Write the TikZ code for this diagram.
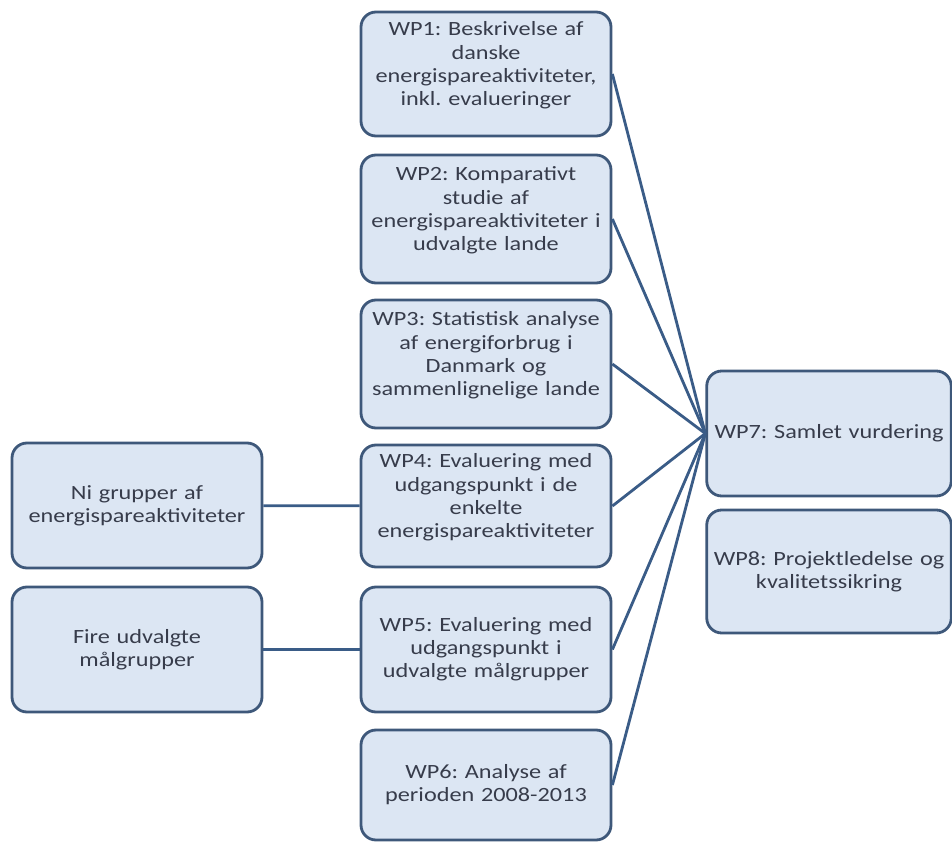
\documentclass[tikz,border=0pt]{standalone}
\usepackage{fontspec}
\setmainfont{Carlito}[FakeStretch=1.2]
\frenchspacing
\usetikzlibrary{positioning}
\definecolor{wpfill}{RGB}{220,230,243}
\definecolor{wpdraw}{RGB}{62,88,122}
\definecolor{wplink}{RGB}{58,92,135}
\definecolor{wptext}{RGB}{55,60,75}
\newcommand{\liftgap}{\par\vspace*{0.34cm}}
\begin{document}
\begin{tikzpicture}[
		wp/.style={
			rectangle,
			draw=wpdraw,
			fill=wpfill,
			line width=1.6pt,
			rounded corners=0.3cm,
			minimum width=5cm,
			text width=4.9cm,
			inner xsep=1pt,
			align=center,
			text=wptext,
			font=\fontsize{11.5}{13.2}\selectfont
		},
		lifted/.style={
			execute at end node=\liftgap
		},
		link/.style={
			draw=wplink,
			line width=1.6pt
		}
		]
		\useasboundingbox (0,0) rectangle (19.04,-16.96);
		
		\node[wp, lifted, minimum height=2.48cm] (wp1) at (9.72,-1.48) {WP1: Beskrivelse af\\danske\\energispareaktiviteter,\\inkl. evalueringer};
		\node[wp, lifted, minimum height=2.56cm] (wp2) at (9.72,-4.38) {WP2: Komparativt\\studie af\\energispareaktiviteter i\\udvalgte lande};
		\node[wp, lifted, minimum height=2.56cm] (wp3) at (9.72,-7.28) {WP3: Statistisk analyse\\af energiforbrug i\\Danmark og\\sammenlignelige lande};
		\node[wp, lifted, minimum height=2.44cm] (wp4) at (9.72,-10.12) {WP4: Evaluering med\\udgangspunkt i de\\enkelte\\energispareaktiviteter};
		\node[wp, minimum height=2.5cm] (wp5) at (9.72,-12.99) {WP5: Evaluering med\\udgangspunkt i\\udvalgte målgrupper};
		\node[wp, minimum height=2.2cm] (wp6) at (9.72,-15.7) {WP6: Analyse af\\perioden 2008-2013};
		
		\node[wp, minimum width=4.84cm, text width=4.82cm, minimum height=2.5cm] (wp7) at (16.58,-8.67) {WP7: Samlet vurdering};
		\node[wp, minimum width=4.84cm, text width=4.82cm, minimum height=2.46cm] (wp8) at (16.58,-11.43) {WP8: Projektledelse og\\kvalitetssikring};
		
		\node[wp, minimum height=2.5cm] (grupper) at (2.74,-10.11) {Ni grupper af\\energispareaktiviteter};
		\node[wp, minimum height=2.5cm] (maal) at (2.74,-12.99) {Fire udvalgte\\målgrupper};
		
		\foreach \n in {wp1,wp2,wp3,wp4,wp5,wp6}
			\draw[link] (\n.east) -- (wp7.west);
		\draw[link] (grupper) -- (wp4);
		\draw[link] (maal) -- (wp5);
		\end{tikzpicture}
\end{document}
